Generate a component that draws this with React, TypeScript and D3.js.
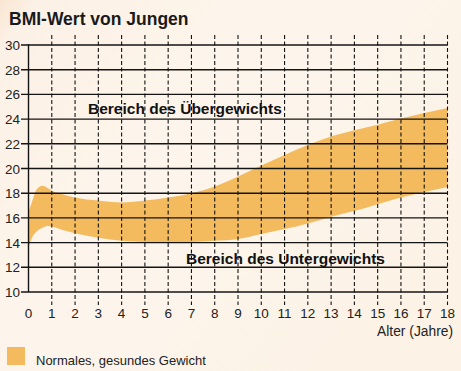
import { useEffect, useRef } from "react";
import * as d3 from "d3";

// age in years, BMI boundaries of the normal band
const ages = [0, 0.15, 0.35, 0.6, 0.8, 1, 1.5, 2, 3, 4, 5, 6, 7, 8, 9, 10, 11, 12, 13, 14, 15, 16, 17, 18];
const upperBmi = [16.5, 17.3, 18.3, 18.6, 18.45, 18.2, 17.9, 17.65, 17.4, 17.25, 17.4, 17.65, 18.0, 18.55, 19.35, 20.25, 21.1, 21.9, 22.6, 23.1, 23.55, 24.05, 24.5, 24.9];
const lowerBmi = [13.6, 14.4, 14.9, 15.2, 15.35, 15.3, 15.0, 14.75, 14.4, 14.15, 14.05, 14.0, 14.05, 14.15, 14.3, 14.7, 15.1, 15.55, 16.1, 16.55, 17.1, 17.65, 18.1, 18.5];

const xTicks = d3.range(0, 19);
const yTicks = [10, 12, 14, 16, 18, 20, 22, 24, 26, 28, 30];

const title = "BMI-Wert von Jungen";
const upperLabel = "Bereich des Übergewichts";
const lowerLabel = "Bereich des Untergewichts";
const xAxisLabel = "Alter (Jahre)";
const legendLabel = "Normales, gesundes Gewicht";

const W = 461;
const H = 371;
const FONT = "'Liberation Sans', Arial, sans-serif";
const BAND = "#f4bb5e";
const INK = "#141414";

const App = () => {
  const svgRef = useRef<SVGSVGElement | null>(null);

  useEffect(() => {
    const svg = d3.select(svgRef.current);
    svg.selectAll("*").remove();

    const x = d3.scaleLinear().domain([0, 18]).range([28.5, 447.5]);
    const y = d3.scaleLinear().domain([10, 30]).range([292, 45]);

    // background
    const defs = svg.append("defs");
    const grad = defs
      .append("linearGradient")
      .attr("id", "bg")
      .attr("x1", "0")
      .attr("y1", "0")
      .attr("x2", "1")
      .attr("y2", "0.6");
    grad.append("stop").attr("offset", "0").attr("stop-color", "#f9e6d2");
    grad.append("stop").attr("offset", "0.06").attr("stop-color", "#fcf1e6");
    grad.append("stop").attr("offset", "0.5").attr("stop-color", "#fdf5ec");
    grad.append("stop").attr("offset", "1").attr("stop-color", "#fcf2e6");
    svg.append("rect").attr("width", W).attr("height", H).attr("fill", "url(#bg)");

    // title
    svg
      .append("text")
      .attr("x", 9)
      .attr("y", 25)
      .attr("font-family", FONT)
      .attr("font-size", 17.5)
      .attr("font-weight", "bold")
      .attr("fill", "#1a1a1a")
      .text(title);

    // normal weight band
    const rows = ages.map((a, i) => ({ age: a, hi: upperBmi[i], lo: lowerBmi[i] }));
    const area = d3
      .area<{ age: number; hi: number; lo: number }>()
      .x((d) => x(d.age))
      .y0((d) => y(d.lo))
      .y1((d) => y(d.hi))
      .curve(d3.curveMonotoneX);
    svg.append("path").attr("d", area(rows) || "").attr("fill", BAND);

    // horizontal grid
    yTicks.forEach((t) => {
      svg
        .append("line")
        .attr("x1", 21)
        .attr("x2", x(18))
        .attr("y1", y(t))
        .attr("y2", y(t))
        .attr("stroke", INK)
        .attr("stroke-width", 1.4);
      svg
        .append("text")
        .attr("x", 20)
        .attr("y", y(t) + 5)
        .attr("text-anchor", "end")
        .attr("font-family", FONT)
        .attr("font-size", 13.5)
        .attr("fill", "#222")
        .text(t);
    });

    // left axis
    svg
      .append("line")
      .attr("x1", x(0))
      .attr("x2", x(0))
      .attr("y1", y(30) - 1)
      .attr("y2", y(10))
      .attr("stroke", INK)
      .attr("stroke-width", 1.4);

    // dashed verticals + x labels
    xTicks.forEach((t) => {
      if (t > 0) {
        svg
          .append("line")
          .attr("x1", x(t))
          .attr("x2", x(t))
          .attr("y1", 35)
          .attr("y2", 305)
          .attr("stroke", INK)
          .attr("stroke-width", 1.1)
          .attr("stroke-dasharray", "4,2.5");
      }
      svg
        .append("text")
        .attr("x", x(t))
        .attr("y", 318)
        .attr("text-anchor", "middle")
        .attr("font-family", FONT)
        .attr("font-size", 13.5)
        .attr("fill", "#222")
        .text(t);
    });

    svg
      .append("text")
      .attr("x", 453)
      .attr("y", 336)
      .attr("text-anchor", "end")
      .attr("font-family", FONT)
      .attr("font-size", 13.8)
      .attr("fill", "#222")
      .text(xAxisLabel);

    // region labels
    svg
      .append("text")
      .attr("x", 88)
      .attr("y", 114)
      .attr("font-family", FONT)
      .attr("font-size", 15.5)
      .attr("font-weight", "bold")
      .attr("fill", "#111")
      .text(upperLabel);
    svg
      .append("text")
      .attr("x", 186)
      .attr("y", 264)
      .attr("font-family", FONT)
      .attr("font-size", 15.5)
      .attr("font-weight", "bold")
      .attr("fill", "#111")
      .text(lowerLabel);

    // legend
    svg
      .append("rect")
      .attr("x", 7)
      .attr("y", 347)
      .attr("width", 18)
      .attr("height", 18)
      .attr("fill", BAND);
    svg
      .append("text")
      .attr("x", 36)
      .attr("y", 365)
      .attr("font-family", FONT)
      .attr("font-size", 13)
      .attr("fill", "#222")
      .text(legendLabel);
  }, []);

  return (
    <svg
      ref={svgRef}
      width={W}
      height={H}
      style={{ position: "absolute", left: 0, top: 0, display: "block" }}
    />
  );
};

export default App;
